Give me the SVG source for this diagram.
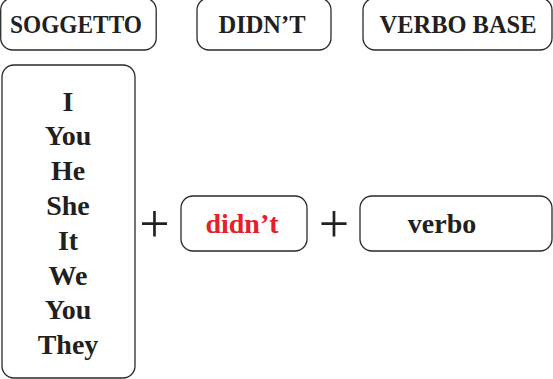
<svg xmlns="http://www.w3.org/2000/svg" width="553" height="379" viewBox="0 0 553 379">
<style>
.box{fill:#fff;stroke:#2b2829;stroke-width:1.3}
.t{font-family:"Liberation Serif","Times New Roman",serif;font-weight:bold;fill:#231f20;text-anchor:middle}
.h{font-size:26px}
.l{font-size:28px}
.red{fill:#e5202a}
.plus{font-family:"Liberation Serif",serif;font-size:54px;fill:#231f20;text-anchor:middle}
</style>
<rect width="553" height="379" fill="#fff"/>
<g id="connectors"></g>
<g id="soggetto">
<rect class="box" x="0.7" y="-2" width="155.5" height="52" rx="12"/>
<text class="t h" x="76" y="33" textLength="132" lengthAdjust="spacingAndGlyphs">SOGGETTO</text>
</g>
<g id="didnt-header">
<rect class="box" x="197" y="-2" width="134" height="52" rx="12"/>
<text class="t h" x="262" y="33" textLength="87" lengthAdjust="spacingAndGlyphs">DIDN’T</text>
</g>
<g id="verbo-base">
<rect class="box" x="363" y="-2" width="189" height="52" rx="12"/>
<text class="t h" x="458" y="33" textLength="157" lengthAdjust="spacingAndGlyphs">VERBO BASE</text>
</g>
<g id="subjects">
<rect class="box" x="2" y="65" width="133" height="313" rx="12"/>
<text class="t l" x="68" y="110.6">I</text>
<text class="t l" x="68" y="145.4">You</text>
<text class="t l" x="68" y="180.2">He</text>
<text class="t l" x="68" y="215">She</text>
<text class="t l" x="68" y="249.8">It</text>
<text class="t l" x="68" y="284.6">We</text>
<text class="t l" x="68" y="319.4">You</text>
<text class="t l" x="68" y="354.2">They</text>
</g>
<g id="plus1"><text class="plus" x="154.5" y="241.5">+</text></g>
<g id="didnt">
<rect class="box" x="181" y="196" width="126" height="55" rx="12"/>
<text class="t l red" x="242" y="233.3">didn’t</text>
</g>
<g id="plus2"><text class="plus" x="334" y="241.5">+</text></g>
<g id="verbo">
<rect class="box" x="360" y="196" width="192" height="55" rx="12"/>
<text class="t l" x="442" y="233.3">verbo</text>
</g>
</svg>
